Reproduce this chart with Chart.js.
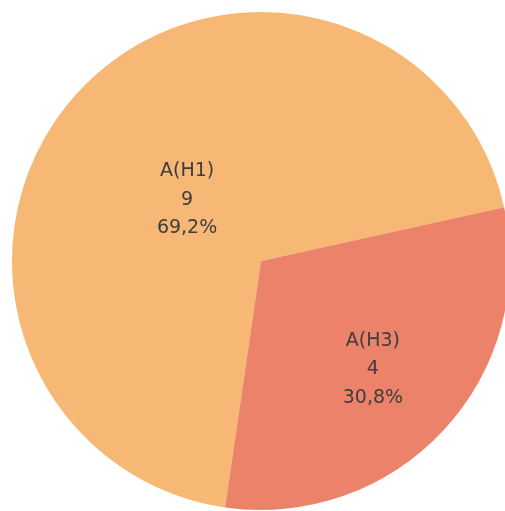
<!DOCTYPE html>
<html>
<head>
<meta charset="utf-8">
<script src="https://cdn.jsdelivr.net/npm/chart.js@4"></script>
<style>
  html, body { margin: 0; padding: 0; background: #ffffff; overflow: hidden; width: 505px; height: 511px; }
  #wrap { position: absolute; left: 0; top: 0; width: 522px; height: 522px; }
</style>
</head>
<body>
<div id="wrap"><canvas id="c"></canvas></div>
<script>
const categories = ['A(H1)', 'A(H3)'];
const values = [9, 4];
const sliceColors = ['#F6B874', '#ED826B'];

const labelPlugin = {
  id: 'sliceLabels',
  afterDatasetsDraw(chart, args, opts) {
    const ctx = chart.ctx;
    const meta = chart.getDatasetMeta(0);
    const total = values.reduce((a, b) => a + b, 0);
    ctx.save();
    ctx.font = opts.font;
    ctx.fillStyle = opts.color;
    ctx.textAlign = 'center';
    ctx.textBaseline = 'middle';
    meta.data.forEach((arc, i) => {
      const p = opts.place[i];
      const mid = (arc.startAngle + arc.endAngle) / 2 + p.shift * Math.PI / 180;
      const cx = arc.x + Math.cos(mid) * arc.outerRadius * p.frac;
      const cy = arc.y + Math.sin(mid) * arc.outerRadius * p.frac;
      const pct = (values[i] / total * 100).toFixed(1).replace('.', ',') + '%';
      const lines = [categories[i], String(values[i]), pct];
      const lh = opts.lineHeight;
      lines.forEach((t, k) => {
        ctx.fillText(t, cx, cy + (k - 1) * lh);
      });
    });
    ctx.restore();
  }
};

new Chart(document.getElementById('c'), {
  type: 'pie',
  data: {
    labels: categories,
    datasets: [{
      data: values,
      backgroundColor: sliceColors,
      borderWidth: 0
    }]
  },
  options: {
    responsive: true,
    maintainAspectRatio: false,
    animation: false,
    rotation: 188.3,
    layout: { padding: 12 },
    plugins: {
      legend: { display: false },
      tooltip: { enabled: false },
      sliceLabels: {
        font: '19px "DejaVu Sans"',
        color: '#3d3d3d',
        lineHeight: 28.5,
        place: [{ frac: 0.386, shift: -3.2 }, { frac: 0.626, shift: 1.2 }]
      }
    }
  },
  plugins: [labelPlugin]
});
</script>
</body>
</html>
